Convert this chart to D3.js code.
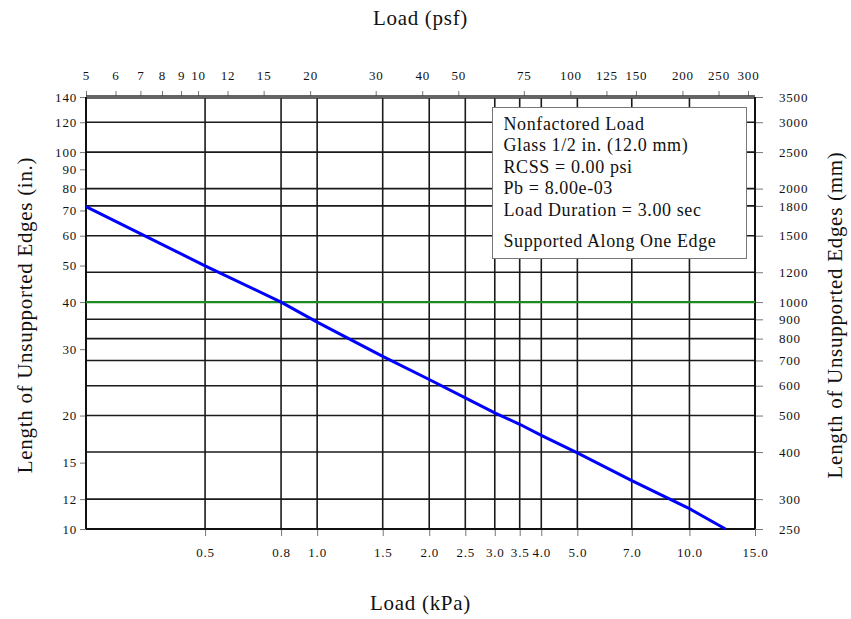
<!DOCTYPE html>
<html>
<head>
<meta charset="utf-8">
<script src="https://cdn.jsdelivr.net/npm/d3@7"></script>
<style>
  body { margin: 0; background: #fff; }
  text { font-family: "Liberation Serif", "Times New Roman", serif; fill: #111; }
</style>
</head>
<body>
<div id="chart"></div>
<script>
// Curve: load (kPa) vs length of unsupported edge (mm)
const loadKpa  = [0.2394, 0.5, 0.8, 1.0, 1.5, 2.0, 2.5, 3.0, 3.5, 4.0, 5.0, 7.0, 10.0, 12.5];
const lengthMm = [1792, 1248, 1000, 885, 718, 623, 557, 508, 474, 443, 398, 336, 283, 250];

// Tick values
const kpaTicks = [0.5, 0.8, 1.0, 1.5, 2.0, 2.5, 3.0, 3.5, 4.0, 5.0, 7.0, 10.0, 15.0];
const psfTicks = [5, 6, 7, 8, 9, 10, 12, 15, 20, 30, 40, 50, 75, 100, 125, 150, 200, 250, 300];
const inTicks  = [10, 12, 15, 20, 30, 40, 50, 60, 70, 80, 90, 100, 120, 140];
const mmTicks  = [250, 300, 400, 500, 600, 700, 800, 900, 1000, 1200, 1500, 1800, 2000, 2500, 3000, 3500];
const mmGrid   = [300, 400, 500, 600, 700, 800, 900, 1200, 1500, 1800, 2000, 2500, 3000];
const refMm    = 1000;

const legendLines = [
  "Nonfactored Load",
  "Glass 1/2 in. (12.0 mm)",
  "RCSS = 0.00 psi",
  "Pb = 8.00e-03",
  "Load Duration = 3.00 sec"
];
const legendNote = "Supported Along One Edge";

const PSF = 0.04788026; // kPa per psf

// Chart dimensions
const margin = {top: 97, right: 96, bottom: 90, left: 86};
const width = 851 - margin.left - margin.right;
const height = 619 - margin.top - margin.bottom;

const svg = d3.select("#chart")
    .append("svg")
    .attr("width", 851)
    .attr("height", 619)
    .append("g")
    .attr("transform", "translate(" + margin.left + "," + margin.top + ")");

// Scales
const x = d3.scaleLog().domain([5 * PSF, 15]).range([0, width]);
const xPsf = d3.scaleLog().domain([5, 15 / PSF]).range([0, width]);
const yMm = d3.scaleLog().domain([250, 3500]).range([height, 0]);
const yIn = d3.scaleLog().domain([10, 140]).range([height, 0]);

// Grid lines
svg.selectAll(".vgrid")
    .data(kpaTicks.filter(d => d < 15))
    .enter().append("line")
    .attr("x1", d => x(d)).attr("x2", d => x(d))
    .attr("y1", 0).attr("y2", height)
    .style("stroke", "#1a1a1a")
    .style("stroke-width", 1.6);

svg.selectAll(".hgrid")
    .data(mmGrid)
    .enter().append("line")
    .attr("x1", 0).attr("x2", width)
    .attr("y1", d => yMm(d)).attr("y2", d => yMm(d))
    .style("stroke", "#1a1a1a")
    .style("stroke-width", 1.6);

// Axes
function styleAxis(g) {
  g.select(".domain").remove();
  g.selectAll(".tick line").style("stroke", "#777");
  g.selectAll(".tick text")
    .style("font-family", "Liberation Serif, serif")
    .style("font-size", "13px")
    .style("letter-spacing", "0.8px")
    .style("fill", "#111");
}

svg.append("g")
    .attr("transform", "translate(0," + height + ")")
    .call(d3.axisBottom(x).tickValues(kpaTicks).tickFormat(d3.format(".1f")).tickSize(7).tickPadding(12))
    .call(styleAxis);

svg.append("g")
    .call(d3.axisTop(xPsf).tickValues(psfTicks).tickFormat(d3.format("d")).tickSize(6).tickPadding(11))
    .call(styleAxis);

svg.append("g")
    .call(d3.axisLeft(yIn).tickValues(inTicks).tickFormat(d3.format("d")).tickSize(6).tickPadding(3))
    .call(styleAxis);

svg.append("g")
    .attr("transform", "translate(" + width + ",0)")
    .call(d3.axisRight(yMm).tickValues(mmTicks).tickFormat(d3.format("d")).tickSize(8).tickPadding(16))
    .call(styleAxis);

// Plot border
svg.append("line")
    .attr("x1", 0).attr("x2", width).attr("y1", 0).attr("y2", 0)
    .style("stroke", "#333").style("stroke-width", 3.5);
svg.append("line")
    .attr("x1", 0).attr("x2", width).attr("y1", 0).attr("y2", 0)
    .style("stroke", "#777").style("stroke-width", 1.5);
[[0, 0, 0, height], [width, 0, width, height], [0, height, width, height]].forEach(s => {
  svg.append("line")
      .attr("x1", s[0]).attr("y1", s[1]).attr("x2", s[2]).attr("y2", s[3])
      .style("stroke", "#111").style("stroke-width", 2);
});

// Reference line at 1000 mm
svg.append("line")
    .attr("x1", 0).attr("x2", width)
    .attr("y1", yMm(refMm)).attr("y2", yMm(refMm))
    .style("stroke", "#1f8a1f")
    .style("stroke-width", 2.2);

// Load curve
const line = d3.line()
    .x((d, i) => x(loadKpa[i]))
    .y(d => yMm(d));

svg.append("path")
    .datum(lengthMm)
    .attr("d", line)
    .style("fill", "none")
    .style("stroke", "#0000ff")
    .style("stroke-width", 3);

// Legend box
const legend = svg.append("g")
    .attr("transform", "translate(" + (492.5 - margin.left) + "," + (107.5 - margin.top) + ")");

legend.append("rect")
    .attr("width", 254)
    .attr("height", 151)
    .style("fill", "#fff")
    .style("stroke", "#777")
    .style("stroke-width", 1);

legend.selectAll(".lg")
    .data(legendLines)
    .enter().append("text")
    .attr("x", 11)
    .attr("y", (d, i) => 22 + i * 21.5)
    .style("font-size", "18px")
    .style("letter-spacing", "0.6px")
    .text(d => d);

legend.append("text")
    .attr("x", 11)
    .attr("y", 139)
    .style("font-size", "18px")
    .style("letter-spacing", "0.6px")
    .text(legendNote);

// Axis titles
const titleSize = "21px";

svg.append("text")
    .attr("x", width / 2)
    .attr("y", 25 - margin.top)
    .attr("text-anchor", "middle")
    .style("font-size", titleSize)
    .style("letter-spacing", "0.7px")
    .text("Load (psf)");

svg.append("text")
    .attr("x", width / 2)
    .attr("y", 610 - margin.top)
    .attr("text-anchor", "middle")
    .style("font-size", titleSize)
    .style("letter-spacing", "0.7px")
    .text("Load (kPa)");

svg.append("text")
    .attr("transform", "translate(" + (32 - margin.left) + "," + (315 - margin.top) + ") rotate(-90)")
    .attr("text-anchor", "middle")
    .style("font-size", titleSize)
    .style("letter-spacing", "0.7px")
    .text("Length of Unsupported Edges (in.)");

svg.append("text")
    .attr("transform", "translate(" + (842 - margin.left) + "," + (315 - margin.top) + ") rotate(-90)")
    .attr("text-anchor", "middle")
    .style("font-size", titleSize)
    .style("letter-spacing", "0.7px")
    .text("Length of Unsupported Edges (mm)");
</script>
</body>
</html>
